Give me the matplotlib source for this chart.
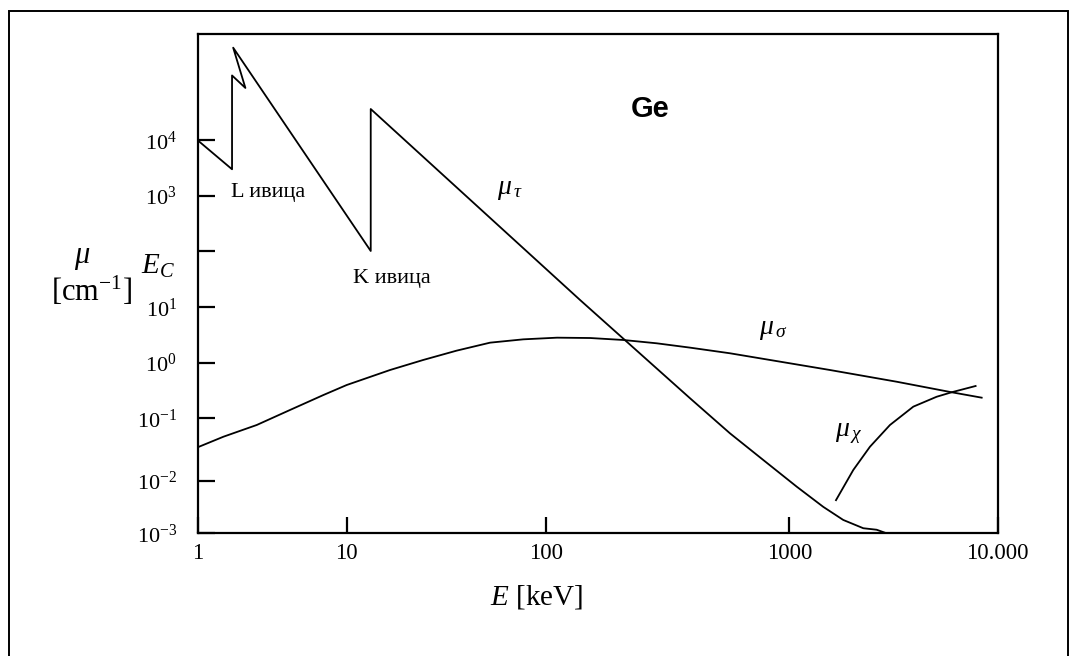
import numpy as np
import matplotlib
matplotlib.use('Agg')
import matplotlib.pyplot as plt
from matplotlib.patches import Rectangle
from matplotlib.ticker import FixedLocator, FixedFormatter, NullLocator

plt.rcParams['font.family'] = 'Liberation Serif'
plt.rcParams['mathtext.fontset'] = 'custom'
plt.rcParams['mathtext.rm'] = 'Liberation Serif'
plt.rcParams['mathtext.it'] = 'Liberation Serif:italic'
plt.rcParams['mathtext.bf'] = 'Liberation Serif:bold'

# Ge attenuation coefficients [cm^-1] vs photon energy [keV]

# photoelectric absorption with the L and K edges
E_tau = [1.0, 1.70, 1.70, 2.09, 1.73, 13.2, 13.2, 138, 391, 570, 782,
         1085, 1456, 1815, 2265, 2625, 2930]
mu_tau = [1.0e4, 3.0e3, 1.48e5, 8.8e4, 4.7e5, 1.0e2, 3.67e4, 13.5, 0.229,
          0.0577, 0.0216, 7.8e-3, 3.2e-3, 1.8e-3, 1.25e-3, 1.17e-3, 1.0e-3]

# Compton scattering
E_sigma = [1.0, 1.49, 2.49, 4.16, 6.97, 10, 16.5, 24.2, 35.6, 52.4, 76.9,
           111, 152, 208, 285, 391, 570, 1567, 3273, 6012, 8377]
mu_sigma = [0.0345, 0.0509, 0.0782, 0.141, 0.262, 0.397, 0.739, 1.12, 1.65,
            2.30, 2.64, 2.83, 2.79, 2.57, 2.24, 1.87, 1.48, 0.739, 0.455,
            0.294, 0.235]

# pair production
E_chi = [1675, 2028, 2438, 3041, 3936, 5093, 6012, 7834]
mu_chi = [4.3e-3, 0.0150, 0.0352, 0.0782, 0.162, 0.244, 0.294, 0.381]

x_ticks = [1, 10, 100, 1000, 10000]
x_ticklabels = ['1', '10', '100', '1000', '10.000']
y_ticks = [1e-3, 1e-2, 1e-1, 1, 10, 100, 1e3, 1e4]
y_ticklabels = [r'$\mathregular{10^{-3}}$', r'$\mathregular{10^{-2}}$',
                r'$\mathregular{10^{-1}}$', r'$\mathregular{10^{0}}$',
                r'$\mathregular{10^{1}}$', '',
                r'$\mathregular{10^{3}}$', r'$\mathregular{10^{4}}$']

# the decades on the hand-drawn axes are not all the same length
x_decades = [0, 1, 2, 3, 4]
x_decade_len = [149, 199.3, 243.3, 208.4]
y_decades = [-3, -2, -1, 0, 1, 2, 3, 4, 5.913]
y_decade_len = [52.3, 62.7, 55.6, 55.4, 56.3, 55.3, 55.4, 106]


def drawn_log_scale(decades, lengths):
    d = np.asarray(decades, float)
    p = np.concatenate([[0.0], np.cumsum(lengths)])
    lo = (p[1] - p[0]) / (d[1] - d[0])
    hi = (p[-1] - p[-2]) / (d[-1] - d[-2])
    d = np.r_[d[0] - 50, d, d[-1] + 50]
    p = np.r_[p[0] - 50 * lo, p, p[-1] + 50 * hi]

    def forward(v):
        v = np.asarray(v, float)
        return np.interp(np.log10(np.clip(v, 1e-300, None)), d, p)

    def inverse(q):
        return 10.0 ** np.interp(np.asarray(q, float), p, d)

    return forward, inverse


W, H = 1078, 656
fig = plt.figure(figsize=(W / 100, H / 100), dpi=100)
ax = fig.add_axes([197.7 / W, 1 - 533.3 / H, 800 / W, 499 / H])

ax.set_xscale('function', functions=drawn_log_scale(x_decades, x_decade_len))
ax.set_yscale('function', functions=drawn_log_scale(y_decades, y_decade_len))

ax.plot(E_tau, mu_tau, color='black', lw=1.3)
ax.plot(E_sigma, mu_sigma, color='black', lw=1.3)
ax.plot(E_chi, mu_chi, color='black', lw=1.3)

ax.set_xlim(1, 1e4)
ax.set_ylim(1e-3, 10 ** y_decades[-1])

ax.xaxis.set_major_locator(FixedLocator(x_ticks))
ax.xaxis.set_major_formatter(FixedFormatter(x_ticklabels))
ax.yaxis.set_major_locator(FixedLocator(y_ticks))
ax.yaxis.set_major_formatter(FixedFormatter(y_ticklabels))
ax.xaxis.set_minor_locator(NullLocator())
ax.yaxis.set_minor_locator(NullLocator())

ax.tick_params(axis='x', direction='in', length=11.5, width=1.6, pad=7,
               labelsize=16.5)
ax.tick_params(axis='y', direction='in', length=12.2, width=1.6, pad=15,
               labelsize=16)
for sp in ax.spines.values():
    sp.set_linewidth(1.6)


def put(x, y, s, **kw):
    kw.setdefault('ha', 'center')
    kw.setdefault('va', 'center')
    fig.text(x / W, 1 - y / H, s, **kw)


# axis titles
put(82, 258, r'$\mu$', fontsize=22)
put(92, 291, r'$\mathregular{[cm^{-1}]}$', fontsize=22)
put(158, 266, r'$E_C$', fontsize=21)
put(537, 597, r'$E$ [keV]', fontsize=21)

# curve and edge labels
put(650, 109, 'Ge', fontsize=21, fontweight='bold', family='Liberation Sans')
put(268, 193, 'L ивица', fontsize=16)
put(353, 278, 'K ивица', fontsize=16, ha='left')
put(510, 189, r'$\mu_{\,\tau}$', fontsize=20)
put(773, 330, r'$\mu_{\,\sigma}$', fontsize=20)
put(849, 434, r'$\mu_{\,\chi}$', fontsize=20)

# outer frame
fig.add_artist(Rectangle((9 / W, 1 - 660 / H), 1059 / W, 649 / H,
                         transform=fig.transFigure, fill=False,
                         edgecolor='black', lw=1.4))

fig.savefig('out.png', dpi=100)
